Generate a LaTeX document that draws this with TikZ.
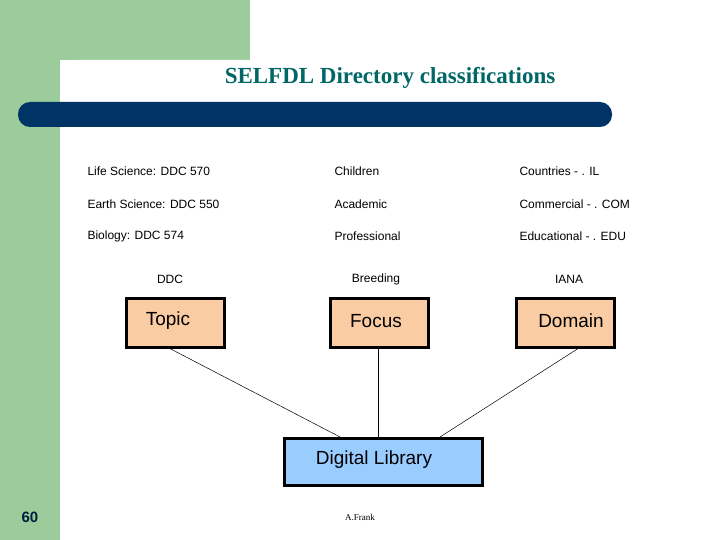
\documentclass[tikz,border=0pt]{standalone}
\usepackage{fontspec}
\setmainfont{Liberation Sans}
\newfontfamily\serif{Liberation Serif}
\definecolor{grn}{RGB}{156,204,156}
\definecolor{navy}{RGB}{0,51,102}
\definecolor{teal2}{RGB}{0,102,102}
\definecolor{peach}{RGB}{250,204,164}
\definecolor{lblue}{RGB}{153,204,255}
\begin{document}
\begin{tikzpicture}[x=1pt,y=-1pt,
  cell/.style={anchor=west,font=\fontsize{12}{14}\selectfont},
  head/.style={font=\fontsize{12}{14}\selectfont},
  box/.style={draw=black,line width=2.5pt,fill=peach,minimum width=98pt,minimum height=49pt,font=\fontsize{19}{22}\selectfont,anchor=north west,inner sep=0pt,text depth=0pt,yshift=0pt},
  conn/.style={draw=black,line width=0.5pt}]
\useasboundingbox (0,0) rectangle (720,540);
\fill[grn] (0,0) rectangle (250,60);
\fill[grn] (0,0) rectangle (60,540);
\fill[white] (60,540) -- (60,75) arc[start angle=180,end angle=270,radius=15] -- (250,60) -- (250,540) -- cycle;
\fill[navy,rounded corners=12pt] (18,102) rectangle (612,127);
\fill[navy] (590,102) rectangle (600,127);
\node[font=\serif\bfseries\fontsize{23}{26}\selectfont,text=teal2] (title) at (390,78) {SELFDL Directory classifications};
\node[cell] (a1) at (84,171) {Life Science: DDC 570};
\node[cell] (a2) at (84,204) {Earth Science: DDC 550};
\node[cell] (a3) at (84,236) {Biology: DDC 574};
\node[cell] (b1) at (331,171) {Children};
\node[cell] (b2) at (331,204) {Academic};
\node[cell] (b3) at (331,236) {Professional};
\node[cell] (c1) at (516,171) {Countries - . IL};
\node[cell] (c2) at (516,204) {Commercial - . COM};
\node[cell] (c3) at (516,236) {Educational - . EDU};
\node[head] (h1) at (170,279) {DDC};
\node[head] (h2) at (376,279) {Breeding};
\node[head] (h3) at (569,279) {IANA};
\node[box,minimum width=98pt] (topic) at (125,297) {};
\node[font=\fontsize{19}{22}\selectfont] (tt) at (168,321) {Topic};
\node[box] (focus) at (329,297) {};
\node[font=\fontsize{19}{22}\selectfont] (ft) at (376,321) {Focus};
\node[box] (domain) at (515,297) {};
\node[font=\fontsize{19}{22}\selectfont] (dt) at (571,321) {Domain};
\node[box,fill=lblue,minimum width=198pt,minimum height=47pt] (dl) at (283,437) {};
\node[font=\fontsize{19}{22}\selectfont] (dlt) at (374,460) {Digital Library};
\coordinate (t1) at (165,346); \coordinate (t2) at (340,437);
\coordinate (f1) at (378,346); \coordinate (f2) at (378,437);
\coordinate (d1) at (582,346); \coordinate (d2) at (440,437);
\draw[conn] (t1) -- (t2);
\draw[conn] (f1) -- (f2);
\draw[conn] (d1) -- (d2);
\node[font=\bfseries\fontsize{15}{18}\selectfont,text=navy!60!black] (num) at (30,517) {60};
\node[font=\serif\fontsize{9}{11}\selectfont] (auth) at (360,517) {A.Frank};
\end{tikzpicture}
\end{document}
